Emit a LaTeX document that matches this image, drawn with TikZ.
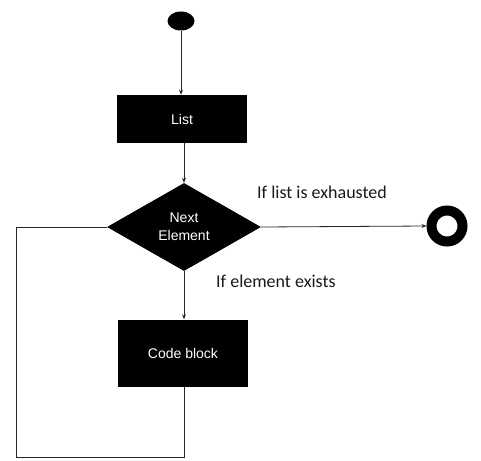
\documentclass[tikz,border=0pt]{standalone}
\usepackage{fontspec}
\setmainfont{Liberation Sans}
\newfontfamily\labfont{Carlito}
\usetikzlibrary{shapes.geometric,arrows.meta}
\tikzset{
  blackbox/.style={rectangle, fill=black, text=white, minimum width=130pt, inner sep=0pt, font=\fontsize{14}{17}\selectfont},
  conn/.style={line width=0.8pt, draw=black!85},
  arr/.style={conn, -{Stealth[length=5pt,width=4pt]}},
  lab/.style={anchor=west, font=\labfont\fontsize{18}{21}\selectfont, inner sep=0pt, text=black!90}
}
\begin{document}
\begin{tikzpicture}[x=1pt,y=-1pt]
\useasboundingbox (0,0) rectangle (481,460);
\node[ellipse, fill=black, minimum width=27pt, minimum height=19pt, inner sep=0pt] (start) at (181,21) {};
\node[blackbox, minimum height=48pt] (list) at (182,119) {List};
\node[diamond, fill=black, text=white, minimum width=154pt, minimum height=88pt, inner sep=0pt, align=center, font=\fontsize{14}{18}\selectfont] (dec) at (184,227) {Next\\Element};
\node[blackbox, minimum height=67pt] (code) at (183,353) {Code block};
\node[circle, draw=black, line width=10pt, fill=white, minimum size=31pt, inner sep=0pt] (end) at (447,226) {};
\coordinate (bl) at (16,457);
\draw[arr] (start) -- (list.north -| start);
\draw[arr] (list.south -| dec.north) -- (dec.north);
\draw[arr] (dec.south) -- (code.north -| dec.south);
\draw[arr] (dec.east) -- (end.west);
\draw[conn] (code.south -| dec.south) |- (bl) |- (dec.west);
\node[lab] (l1) at (257,192) {If list is exhausted};
\node[lab] (l2) at (216,281) {If element exists};
\end{tikzpicture}
\end{document}
